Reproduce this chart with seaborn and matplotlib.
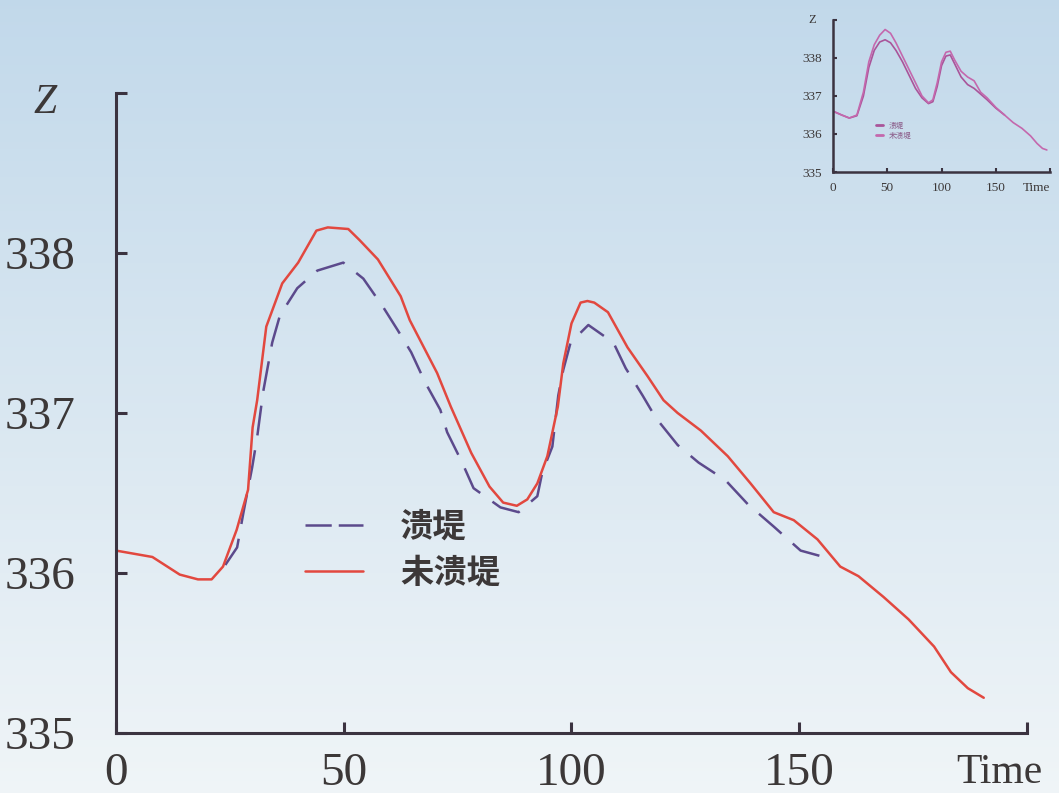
import numpy as np
import pandas as pd
import matplotlib
matplotlib.use("Agg")
import matplotlib.pyplot as plt
import seaborn as sns

# main chart: water level Z against time
case_names = ["溃堤", "未溃堤"]

break_t = [24, 26.6, 28, 29.9, 31, 32.3, 34.3, 36, 39.8, 44.2,
           49.9, 54.3, 58.7, 61.8, 64.8, 67.9, 71.2, 72.7, 76, 78.5,
           84.4, 88.4, 92.5, 93.6, 95.8, 97.1, 98.2, 99.8, 103.7, 109.2,
           111.9, 115.6, 118.5, 123.3, 127.9, 133.8, 138.7, 144.4, 150.3, 155.4]
break_z = [336.05, 336.16, 336.38, 336.66, 336.85, 337.13, 337.44, 337.61, 337.78, 337.89,
           337.94, 337.84, 337.66, 337.52, 337.38, 337.19, 337.02, 336.88, 336.69, 336.53,
           336.41, 336.38, 336.48, 336.63, 336.79, 337.11, 337.27, 337.44, 337.55, 337.44,
           337.28, 337.11, 336.97, 336.80, 336.69, 336.58, 336.43, 336.29, 336.14, 336.10]

intact_t = [0, 4, 8, 14, 18, 21, 23.5, 26.5, 29, 30, 31, 33, 36.5, 40, 44, 46.5, 51, 53.5,
            57.5, 62.5, 64.5, 70.5, 73.5, 78, 82, 85, 88, 90.3, 92.5, 94.7, 97, 98.2, 100,
            102, 103.5, 105, 108, 112.3, 116.7, 120.2, 123.3, 128.4, 134.3, 139.3, 144.4,
            148.8, 154, 159, 163, 168.5, 174, 179.6, 183.3, 187, 190.5]
intact_z = [336.14, 336.12, 336.10, 335.99, 335.96, 335.96, 336.04, 336.27, 336.52, 336.91,
            337.08, 337.54, 337.81, 337.94, 338.14, 338.16, 338.15, 338.08, 337.96, 337.73,
            337.58, 337.25, 337.04, 336.75, 336.54, 336.44, 336.42, 336.46, 336.56, 336.73,
            337.04, 337.31, 337.56, 337.69, 337.70, 337.69, 337.63, 337.41, 337.23, 337.08,
            337.00, 336.89, 336.73, 336.56, 336.38, 336.33, 336.21, 336.04, 335.98, 335.85,
            335.71, 335.54, 335.38, 335.28, 335.22]

# small inset chart in the corner
inset_break_t = [0, 8, 15, 22, 28, 33, 38, 43, 48, 53, 58, 64, 70, 76, 82, 88, 92, 96,
                 100, 104, 108, 112, 118, 124, 130, 136, 142, 150, 158]
inset_break_z = [336.6, 336.5, 336.42, 336.48, 337.0, 337.75, 338.2, 338.42, 338.48, 338.4,
                 338.2, 337.9, 337.55, 337.2, 336.95, 336.8, 336.85, 337.25, 337.8, 338.05,
                 338.08, 337.85, 337.5, 337.3, 337.2, 337.05, 336.9, 336.68, 336.5]
inset_intact_t = [0, 8, 15, 22, 28, 33, 38, 43, 48, 53, 58, 64, 70, 76, 82, 88, 92, 96,
                  100, 104, 108, 112, 118, 124, 130, 136, 142, 150, 158, 166, 174, 182,
                  188, 193, 197]
inset_intact_z = [336.6, 336.5, 336.42, 336.5, 337.1, 337.9, 338.35, 338.6, 338.75, 338.65,
                  338.4, 338.05, 337.7, 337.35, 337.0, 336.82, 336.9, 337.35, 337.9, 338.15,
                  338.18, 337.95, 337.65, 337.5, 337.4, 337.1, 336.95, 336.7, 336.5, 336.3,
                  336.15, 335.95, 335.75, 335.62, 335.58]

y_ticks = [335, 336, 337, 338, 339]
y_labels = ["335", "336", "337", "338", ""]
x_ticks = [0, 50, 100, 150, 200]

axis_col = "#3b3340"
text_col = "#3c3838"
purple = "#5c4a8c"
red = "#e2483f"

sns.set_theme(style="ticks")
plt.rcParams["font.family"] = ["Liberation Serif", "Noto Sans CJK SC", "DejaVu Sans"]

fig = plt.figure(figsize=(10.59, 7.93), dpi=100)

# pale blue paper background
bg = fig.add_axes([0, 0, 1, 1], zorder=-10)
top = np.array([0.76, 0.85, 0.92])
bottom = np.array([0.94, 0.96, 0.97])
g = np.linspace(0, 1, 256)[:, None, None]
bg.imshow(np.repeat(top * (1 - g) + bottom * g, 2, axis=1), aspect="auto", extent=[0, 1, 0, 1])
bg.axis("off")

ax = fig.add_axes([0.1095, 0.0757, 0.8603, 0.807])
ax.set_facecolor("none")

df = pd.DataFrame({
    "time": break_t + intact_t,
    "z": break_z + intact_z,
    "case": [case_names[0]] * len(break_t) + [case_names[1]] * len(intact_t),
})
sns.lineplot(data=df, x="time", y="z", hue="case", style="case",
             hue_order=case_names, style_order=case_names,
             palette={case_names[0]: purple, case_names[1]: red},
             dashes={case_names[0]: (12, 6), case_names[1]: ""},
             estimator=None, sort=False, lw=1.8, ax=ax)

ax.set_xlim(0, 200)
ax.set_ylim(335, 339)
sns.despine(ax=ax)
for s in ["left", "bottom"]:
    ax.spines[s].set_linewidth(2.2)
    ax.spines[s].set_color(axis_col)
ax.set_xticks(x_ticks)
ax.set_xticklabels(["0", "50", "100", "150", ""])
ax.set_yticks(y_ticks)
ax.set_yticklabels(y_labels)
ax.tick_params(direction="in", length=8, width=2.2, color=axis_col,
               labelsize=34, labelcolor=text_col)
ax.tick_params(axis="y", pad=29)
ax.tick_params(axis="x", pad=14)

ax.set_xlabel("Time", fontsize=30, color=text_col)
ax.xaxis.set_label_coords(0.97, -0.032)
ax.set_ylabel("Z", fontsize=30, style="italic", color=text_col, rotation=0,
              ha="center", va="center")
ax.yaxis.set_label_coords(-0.078, 0.985)

handles, labels = ax.get_legend_handles_labels()
leg = ax.legend(handles, labels, loc="center left", bbox_to_anchor=(0.2075, 0.286),
                frameon=False, borderpad=0, borderaxespad=0, handlelength=1.75,
                handletextpad=1.1, labelspacing=0.4,
                prop={"family": "Noto Sans CJK SC", "weight": "bold", "size": 24})
for t in leg.get_texts():
    t.set_color(text_col)
for h in leg.get_lines():
    h.set_linewidth(1.8)
leg.get_lines()[0].set_dashes((10.5, 2.8))

# inset
axi = fig.add_axes([0.7866, 0.7831, 0.205, 0.1917])
axi.set_facecolor("none")
dfi = pd.DataFrame({
    "time": inset_break_t + inset_intact_t,
    "z": inset_break_z + inset_intact_z,
    "case": [case_names[0]] * len(inset_break_t) + [case_names[1]] * len(inset_intact_t),
})
sns.lineplot(data=dfi, x="time", y="z", hue="case", hue_order=case_names,
             palette={case_names[0]: "#a9559a", case_names[1]: "#c468ad"},
             estimator=None, sort=False, lw=1.2, ax=axi)
axi.set_xlim(0, 200)
axi.set_ylim(335, 339)
sns.despine(ax=axi)
for s in ["left", "bottom"]:
    axi.spines[s].set_linewidth(1.8)
    axi.spines[s].set_color(axis_col)
axi.set_xticks(x_ticks)
axi.set_xticklabels(["0", "50", "100", "150", "Time"])
axi.get_xticklabels()[-1].set_horizontalalignment("right")
axi.set_yticks(y_ticks)
axi.set_yticklabels(y_labels)
axi.tick_params(direction="in", length=3, width=1.5, color=axis_col,
                labelsize=9.5, labelcolor=text_col)
axi.tick_params(axis="y", pad=8)
axi.tick_params(axis="x", pad=7)
axi.set_xlabel("")
axi.set_ylabel("Z", fontsize=9, color=text_col, rotation=0, ha="center", va="center")
axi.yaxis.set_label_coords(-0.097, 1.0)
hi, li = axi.get_legend_handles_labels()
legi = axi.legend(hi, li, loc="center left", bbox_to_anchor=(0.2, 0.27), frameon=False,
                  borderpad=0, borderaxespad=0, handlelength=0.8, handletextpad=0.8,
                  labelspacing=0.3, prop={"family": "Noto Sans CJK SC", "size": 5.5})
for t in legi.get_texts():
    t.set_color("#8a5a88")
for h in legi.get_lines():
    h.set_linewidth(2)

fig.savefig("out.png", dpi=100)
